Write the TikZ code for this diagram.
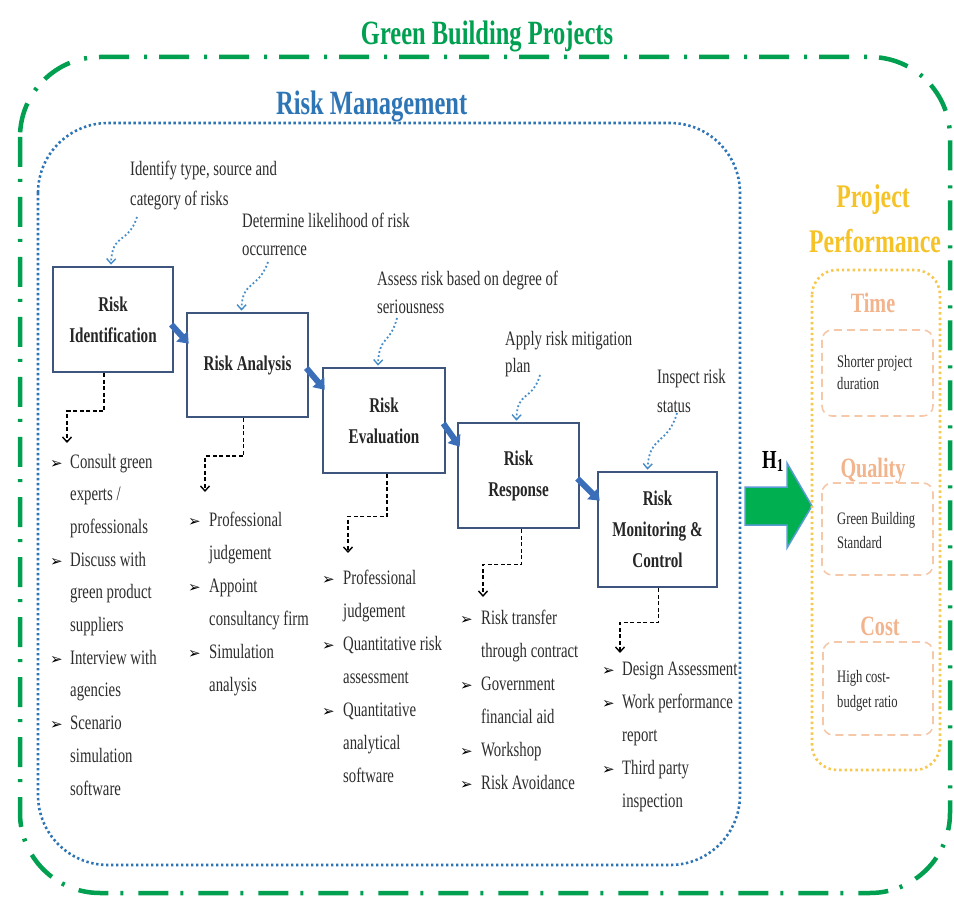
\documentclass[tikz,border=0pt]{standalone}
\usepackage{fontspec}
\setmainfont[FakeStretch=0.72]{Liberation Serif}
\newfontfamily\symfont{DejaVu Sans}
\usetikzlibrary{arrows.meta,calc}

\definecolor{gbgreen}{RGB}{0,160,80}
\definecolor{rmblue}{RGB}{46,117,182}
\definecolor{boxline}{RGB}{62,86,126}
\definecolor{flowblue}{RGB}{58,110,185}
\definecolor{noteblue}{RGB}{70,140,200}
\definecolor{txtgray}{RGB}{45,45,45}
\definecolor{perfgold}{RGB}{245,195,40}
\definecolor{perfdot}{RGB}{246,200,80}
\definecolor{peach}{RGB}{242,180,140}
\definecolor{peachline}{RGB}{245,200,170}
\definecolor{hgreen}{RGB}{0,176,80}
\definecolor{hedge}{RGB}{91,155,213}

% a column of text lines, one node per line
\newcommand\textlines[6]{%
  \foreach \t [count=\i from 0] in {#6}{\node[#5] (#1-\i) at (#2,{#3+\i*#4}) {\t};}}
% arrow-head bullets on the given line numbers
\newcommand\bulletmarks[5]{%
  \foreach \i in {#5}{\node[bulmark] (#1-b\i) at (#2,{#3+\i*#4}) {➢};}}

\begin{document}
\begin{tikzpicture}[x=1pt,y=-1pt,
  stepbox/.style={draw=boxline, line width=2.6pt, fill=white, align=center,
    font=\bfseries\fontsize{21}{31}\selectfont, text=black!85, inner sep=2pt},
  listtext/.style={anchor=base west, inner sep=0pt, font=\fontsize{20.5}{24}\selectfont, text=txtgray},
  notetext/.style={anchor=base west, inner sep=0pt, font=\fontsize{20.5}{24}\selectfont, text=txtgray},
  perftext/.style={anchor=base west, inner sep=0pt, font=\fontsize{17.5}{20}\selectfont, text=txtgray},
  bulmark/.style={anchor=base west, inner sep=0pt, font=\symfont\fontsize{15}{15}\selectfont, text=black},
  perfhead/.style={font=\bfseries\fontsize{28}{30}\selectfont, text=peach, anchor=base},
  flowarrow/.style={draw=flowblue, line width=6pt, -{Triangle[length=10pt,width=15pt]}},
  dconn/.style={draw=black, line width=1.6pt, dash pattern=on 4pt off 2.5pt,
    -{Straight Barb[length=5pt,width=9pt,line width=1.4pt]}},
  notearrow/.style={draw=noteblue, line width=1.8pt, dash pattern=on 1.8pt off 2.4pt,
    -{Straight Barb[length=5pt,width=9pt,line width=1.4pt]}},
  innerbox/.style={draw=peachline, line width=1.6pt, dash pattern=on 8pt off 5pt, rounded corners=10pt}
]
\useasboundingbox (0,0) rectangle (954,901);

% outer frame: green building projects
\draw[gbgreen, line width=4.5pt, dash pattern=on 30pt off 12pt on 3pt off 15pt, rounded corners=80pt]
  (20,57) rectangle (950,893);
\node[anchor=base, inner sep=0pt, text=gbgreen, font=\bfseries\fontsize{34}{36}\selectfont] (gbtitle)
  at (487,45) {Green Building Projects};

% risk management frame
\draw[rmblue, line width=2.6pt, dash pattern=on 2.4pt off 2.6pt, rounded corners=70pt]
  (38,123) rectangle (740,865);
\node[anchor=base west, inner sep=0pt, text=rmblue, font=\bfseries\fontsize{34}{36}\selectfont] (rmtitle)
  at (276,115) {Risk Management};

% process steps
\node[stepbox, minimum width=120pt, minimum height=105pt] (ident) at (113,319.5) {Risk\\Identification};
\node[stepbox, minimum width=121pt, minimum height=104pt] (analysis) at (247.5,365) {Risk Analysis};
\node[stepbox, minimum width=122pt, minimum height=105pt] (eval) at (384,420.5) {Risk\\Evaluation};
\node[stepbox, minimum width=121pt, minimum height=105pt] (resp) at (518.5,475.5) {Risk\\Response};
\node[stepbox, minimum width=119pt, minimum height=115pt] (mon) at (657.5,529.5) {Risk\\Monitoring \&\\Control};

% flow between steps
\draw[flowarrow] ($(ident.east)+(-3,5)$) -- ($(analysis.north west)+(3,32)$);
\draw[flowarrow] ($(analysis.east)+(-3,3)$) -- ($(eval.north west)+(3,23)$);
\draw[flowarrow] ($(eval.east)+(-3,3)$) -- ($(resp.north west)+(3,25)$);
\draw[flowarrow] ($(resp.east)+(-3,3)$) -- ($(mon.north west)+(3,30)$);

% notes above the steps
\textlines{na}{130}{176}{30}{notetext}{{Identify type, source and},{category of risks}}
\textlines{nb}{242}{228}{28}{notetext}{{Determine likelihood of risk},{occurrence}}
\textlines{nc}{377}{286}{28}{notetext}{{Assess risk based on degree of},{seriousness}}
\textlines{nd}{505}{346}{27}{notetext}{{Apply risk mitigation},{plan}}
\textlines{ne}{657}{384}{29}{notetext}{{Inspect risk},{status}}

\coordinate (sa) at (137,217);
\coordinate (sb) at (268,262);
\coordinate (sc) at (397,318);
\coordinate (sd) at (540,375);
\coordinate (se) at (677,413);
\draw[notearrow] (sa) .. controls (128,245) and (112,232) .. ($(ident.north)+(-2,-1)$);
\draw[notearrow] (sb) .. controls (258,290) and (242,280) .. ($(analysis.north)+(-6,-1)$);
\draw[notearrow] (sc) .. controls (390,345) and (379,335) .. ($(eval.north)+(-6,-1)$);
\draw[notearrow] (sd) .. controls (532,402) and (517,390) .. ($(resp.north)+(-2,-1)$);
\draw[notearrow] (se) .. controls (668,445) and (649,435) .. ($(mon.north)+(-10,-1)$);

% connectors to the activity lists
\coordinate (la) at (67,443);
\coordinate (lb) at (205,492);
\coordinate (lc) at (348,553);
\coordinate (ld) at (483,597);
\coordinate (le) at (620,653);
\draw[dconn] ($(ident.south)+(-9,0)$) -- ++(0,38) -| (la);
\draw[dconn] ($(analysis.south)+(-4,0)$) -- ++(0,38) -| (lb);
\draw[dconn] ($(eval.south)+(3,0)$) -- ++(0,42) -| (lc);
\draw[dconn] ($(resp.south)+(3,0)$) -- ++(0,35) -| (ld);
\draw[dconn] ($(mon.south)+(1,0)$) -- ++(0,34) -| (le);

% activity lists
\textlines{ca}{70}{468}{32.7}{listtext}{{Consult green},{experts /},{professionals},{Discuss with},{green product},{suppliers},{Interview with},{agencies},{Scenario},{simulation},{software}}
\bulletmarks{ca}{50}{468}{32.7}{0,3,6,8}
\textlines{cb}{209}{526}{33}{listtext}{{Professional},{judgement},{Appoint},{consultancy firm},{Simulation},{analysis}}
\bulletmarks{cb}{188}{526}{33}{0,2,4}
\textlines{cc}{343}{584}{33.1}{listtext}{{Professional},{judgement},{Quantitative risk},{assessment},{Quantitative},{analytical},{software}}
\bulletmarks{cc}{322}{584}{33.1}{0,2,4}
\textlines{cd}{481}{624}{33}{listtext}{{Risk transfer},{through contract},{Government},{financial aid},{Workshop},{Risk Avoidance}}
\bulletmarks{cd}{460}{624}{33}{0,2,4,5}
\textlines{ce}{622}{675}{33}{listtext}{{Design Assessment},{Work performance},{report},{Third party},{inspection}}
\bulletmarks{ce}{602}{675}{33}{0,1,3}

% H1 link to performance
\path[fill=hgreen, draw=hedge, line width=1.5pt]
  (745,487) -- (787,487) -- (787,463) -- (812,506) -- (787,548) -- (787,525) -- (745,525) -- cycle;
\node[anchor=base, inner sep=0pt, font=\bfseries\fontsize{26}{28}\selectfont] (hone) at (773,468)
  {H\textsubscript{1}};

% project performance
\node[anchor=base, inner sep=0pt, text=perfgold, font=\bfseries\fontsize{33}{35}\selectfont] (pp1) at (873,208) {Project};
\node[anchor=base, inner sep=0pt, text=perfgold, font=\bfseries\fontsize{33}{35}\selectfont] (pp2) at (875,253) {Performance};
\draw[perfdot, line width=2.6pt, dash pattern=on 2.4pt off 3pt, rounded corners=25pt]
  (812,270) rectangle (940,770);

\node[perfhead] (time) at (873,313) {Time};
\draw[innerbox] (822,330) rectangle (933,416);
\textlines{pt}{837}{368}{22}{perftext}{{Shorter project},{duration}}

\node[perfhead] (quality) at (873,477) {Quality};
\draw[innerbox] (822,483) rectangle (933,575);
\textlines{pq}{837}{524}{24}{perftext}{{Green Building},{Standard}}

\node[perfhead] (cost) at (880,635) {Cost};
\draw[innerbox] (823,642) rectangle (933,735);
\textlines{pc}{837}{682}{25}{perftext}{{High cost-},{budget ratio}}
\end{tikzpicture}
\end{document}
